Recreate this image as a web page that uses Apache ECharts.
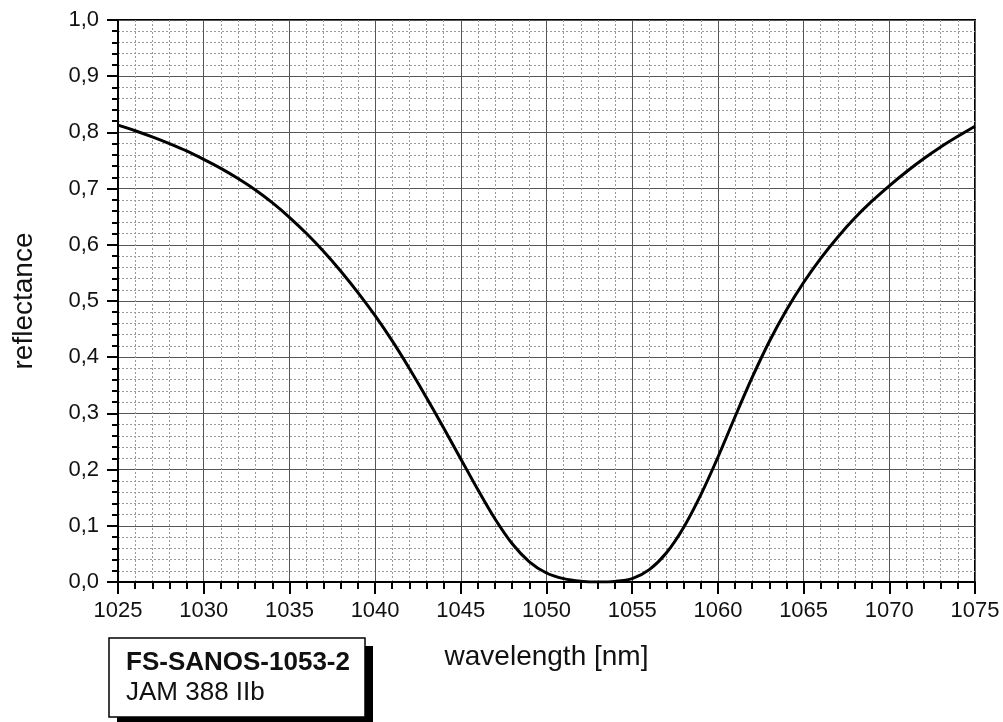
<!DOCTYPE html>
<html>
<head>
<meta charset="utf-8">
<script src="https://cdn.jsdelivr.net/npm/echarts@6/dist/echarts.min.js"></script>
<style>
html,body{margin:0;padding:0;background:#fff;}
#chart{width:1003px;height:722px;}
</style>
</head>
<body>
<div id="chart"></div>
<script>
// wavelength (nm)
const wavelengths = [1025,1026,1027,1028,1029,1030,1031,1032,1033,1034,1035,1036,1037,1038,1039,1040,
  1041,1042,1043,1044,1045,1046,1047,1048,1049,1050,1051,1052,1053,1054,1055,1056,1057,1058,1059,1060,
  1061,1062,1063,1064,1065,1066,1067,1068,1069,1070,1071,1072,1073,1074,1075];
// reflectance
const reflectance = [0.813,0.803,0.792,0.780,0.767,0.752,0.736,0.718,0.698,0.675,0.649,0.620,0.588,0.553,0.515,0.474,
  0.429,0.380,0.328,0.274,0.219,0.164,0.112,0.068,0.036,0.016,0.006,0.0015,0.000,0.001,0.006,0.022,0.052,0.097,0.155,0.222,
  0.294,0.364,0.428,0.484,0.533,0.576,0.614,0.648,0.678,0.705,0.730,0.753,0.774,0.793,0.811];
const xTickLabels = ['1025','1030','1035','1040','1045','1050','1055','1060','1065','1070','1075'];
const yTickLabels = ['0,0','0,1','0,2','0,3','0,4','0,5','0,6','0,7','0,8','0,9','1,0'];
const xAxisTitle = 'wavelength [nm]';
const yAxisTitle = 'reflectance';
const boxLine1 = 'FS-SANOS-1053-2';
const boxLine2 = 'JAM 388 IIb';

const FONT = 'Liberation Sans, Arial, sans-serif';
const chart = echarts.init(document.getElementById('chart'));
const seriesData = wavelengths.map((w, i) => [w, reflectance[i]]);

chart.setOption({
  animation: false,
  backgroundColor: '#fff',
  grid: {
    left: 118, top: 20, right: 28, bottom: 140,
    show: true, borderColor: '#000', borderWidth: 2, backgroundColor: 'transparent'
  },
  xAxis: {
    type: 'value', min: 1025, max: 1075, interval: 5,
    name: xAxisTitle, nameLocation: 'middle', nameGap: 61,
    nameTextStyle: { fontFamily: FONT, fontSize: 28, color: '#111' },
    axisLine: { show: true, onZero: false, lineStyle: { color: '#000', width: 2 } },
    axisTick: { show: true, inside: false, length: 12, lineStyle: { color: '#000', width: 2 } },
    minorTick: { show: true, splitNumber: 5, length: 7, lineStyle: { color: '#000', width: 2 } },
    splitLine: { show: true, lineStyle: { color: '#555', width: 1 } },
    minorSplitLine: { show: true, lineStyle: { color: '#999', width: 1, type: [2, 2] } },
    axisLabel: {
      margin: 18, fontFamily: FONT, fontSize: 22, color: '#111',
      formatter: v => xTickLabels[Math.round((v - 1025) / 5)] ?? ''
    }
  },
  yAxis: {
    type: 'value', min: 0, max: 1, interval: 0.1,
    name: yAxisTitle, nameLocation: 'middle', nameGap: 80,
    nameTextStyle: { fontFamily: FONT, fontSize: 28, color: '#111' },
    axisLine: { show: true, onZero: false, lineStyle: { color: '#000', width: 2 } },
    axisTick: { show: true, inside: false, length: 11, lineStyle: { color: '#000', width: 2 } },
    minorTick: { show: true, splitNumber: 5, length: 6, lineStyle: { color: '#000', width: 2 } },
    splitLine: { show: true, lineStyle: { color: '#555', width: 1 } },
    minorSplitLine: { show: true, lineStyle: { color: '#999', width: 1, type: [2, 2] } },
    axisLabel: {
      margin: 19, fontFamily: FONT, fontSize: 22, color: '#111',
      formatter: v => yTickLabels[Math.round(v * 10)] ?? ''
    }
  },
  series: [{
    type: 'line',
    data: seriesData,
    smooth: 0.3,
    showSymbol: false,
    clip: true,
    lineStyle: { color: '#000', width: 3 }
  }],
  graphic: [
    { type: 'rect', shape: { x: 117, y: 646, width: 256, height: 80 }, style: { fill: '#000' }, z: 10 },
    { type: 'rect', shape: { x: 109, y: 638, width: 256, height: 79 }, style: { fill: '#fff', stroke: '#000', lineWidth: 1.5 }, z: 11 },
    { type: 'text', x: 126, y: 663, style: { text: boxLine1, fontFamily: FONT, fontWeight: 'bold', fontSize: 26, fill: '#111', verticalAlign: 'middle' }, z: 12 },
    { type: 'text', x: 126, y: 693, style: { text: boxLine2, fontFamily: FONT, fontSize: 26, fill: '#111', verticalAlign: 'middle' }, z: 12 }
  ]
});
</script>
</body>
</html>
